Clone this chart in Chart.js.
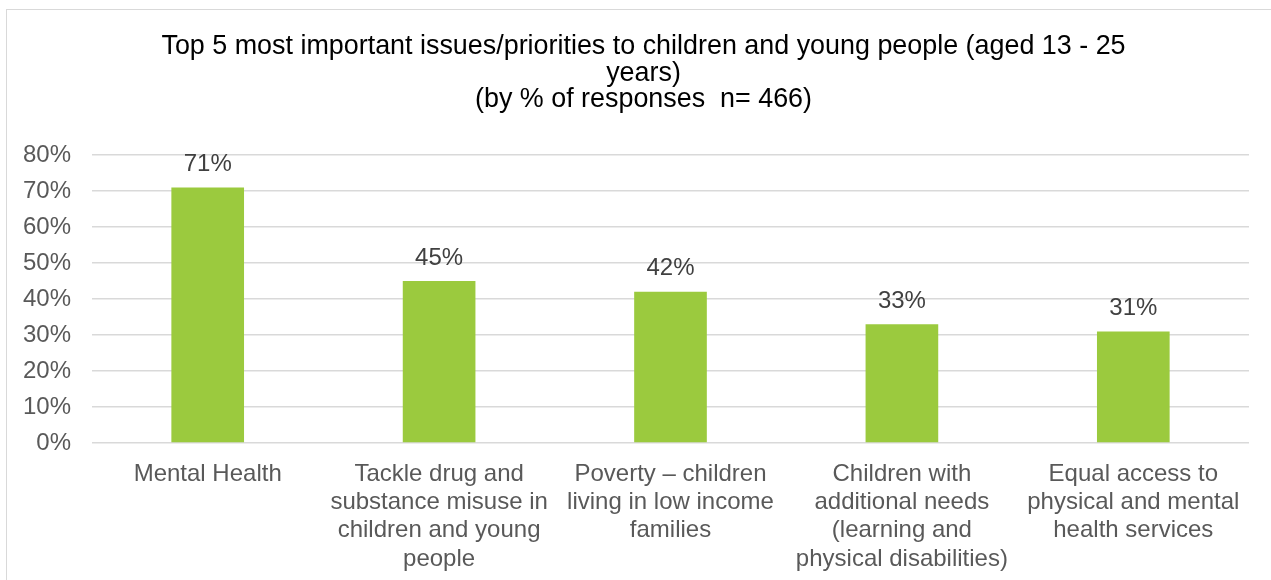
<!DOCTYPE html>
<html>
<head>
<meta charset="utf-8">
<script src="https://cdn.jsdelivr.net/npm/chart.js@4/dist/chart.umd.min.js"></script>
<style>
    body { margin: 0; background: #fff; }
    #box { position: absolute; left: 0; top: 0; width: 1271px; height: 580px; }
</style>
</head>
<body>
<div id="box"><canvas id="graficoPrioridades" width="1271" height="580"></canvas></div>
<script>
// dados do gráfico
const categorias = [
    'Mental Health',
    ['Tackle drug and', 'substance misuse in', 'children and young', 'people'],
    ['Poverty \u2013 children', 'living in low income', 'families'],
    ['Children with', 'additional needs', '(learning and', 'physical disabilities)'],
    ['Equal access to', 'physical and mental', 'health services']
];
const percentuais = [71, 45, 42, 33, 31];
const ticksY = [0, 10, 20, 30, 40, 50, 60, 70, 80];
const titulo = [
    'Top 5 most important issues/priorities to children and young people (aged 13 - 25',
    'years)',
    '(by % of responses  n= 466)'
];

const fonte = "'Liberation Sans', Arial, sans-serif";

// moldura cinza + título desenhado à mão (centralizado como no original)
const pluginMoldura = {
    id: 'moldura',
    beforeDraw(chart) {
        const ctx = chart.ctx;
        ctx.save();
        ctx.strokeStyle = '#d9d9d9';
        ctx.lineWidth = 1;
        ctx.strokeRect(6.5, 9.5, 1300, 700);
        ctx.restore();
    },
    afterDraw(chart) {
        const ctx = chart.ctx;
        ctx.save();
        ctx.font = '26.9px ' + fonte;
        ctx.fillStyle = '#000000';
        ctx.textAlign = 'center';
        ctx.textBaseline = 'alphabetic';
        for (let i = 0; i < titulo.length; i++) {
            ctx.fillText(titulo[i], 643.5, 54 + i * 26.5);
        }
        ctx.restore();
    }
};

// rótulos de valor em cima de cada barra
const pluginRotulos = {
    id: 'rotulos',
    afterDatasetsDraw(chart) {
        const ctx = chart.ctx;
        const meta = chart.getDatasetMeta(0);
        ctx.save();
        ctx.font = '24px ' + fonte;
        ctx.fillStyle = '#404040';
        ctx.textAlign = 'center';
        ctx.textBaseline = 'alphabetic';
        meta.data.forEach(function (barra, i) {
            ctx.fillText(percentuais[i] + '%', barra.x, barra.y - 16.5);
        });
        ctx.restore();
    }
};

const configPrioridades = {
    type: 'bar',
    data: {
        labels: categorias,
        datasets: [{
            data: percentuais,
            backgroundColor: '#9bca3e',
            barPercentage: 0.314,
            categoryPercentage: 1
        }]
    },
    options: {
        responsive: false,
        animation: false,
        layout: { padding: { left: 0, right: 22, top: 155, bottom: 0 } },
        plugins: {
            legend: { display: false },
            tooltip: { enabled: false },
            title: { display: false }
        },
        scales: {
            x: {
                grid: { display: false },
                border: { display: false },
                afterFit(scale) { scale.height = 137; },
                ticks: {
                    autoSkip: false,
                    maxRotation: 0,
                    padding: 9,
                    color: '#595959',
                    font: { family: fonte, size: 24, lineHeight: 1.18 }
                }
            },
            y: {
                min: 0,
                max: 80,
                afterBuildTicks(scale) {
                    scale.ticks = ticksY.map(v => ({ value: v }));
                },
                afterFit(scale) { scale.width = 92; },
                grid: { color: '#d9d9d9', lineWidth: 1.5, drawTicks: false },
                border: { display: false },
                ticks: {
                    padding: 21,
                    color: '#595959',
                    font: { family: fonte, size: 24 },
                    callback: v => v + '%'
                }
            }
        }
    },
    plugins: [pluginMoldura, pluginRotulos]
};

let graficoPrioridades = new Chart(
    document.getElementById('graficoPrioridades'),
    configPrioridades
);
</script>
</body>
</html>
